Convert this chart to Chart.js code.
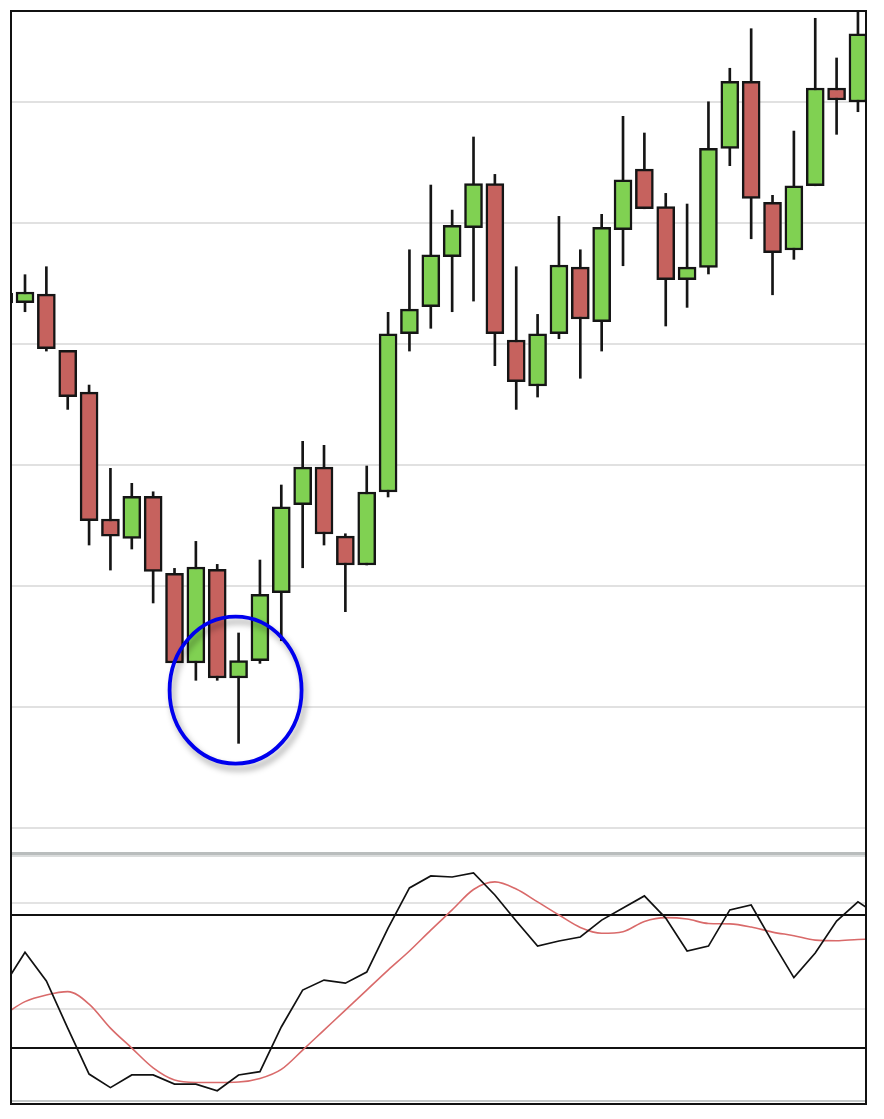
<!DOCTYPE html>
<html>
<head>
<meta charset="utf-8">
<script src="https://cdn.jsdelivr.net/npm/chart.js@4.4.1/dist/chart.umd.min.js"></script>
<style>
    html, body { margin: 0; padding: 0; background: #fff; }
    #frame {
        position: absolute; left: 10px; top: 10px;
        width: 857px; height: 1095px;
        border: 2px solid #111; box-sizing: border-box;
    }
    #priceBox { position: absolute; left: 0; top: 0; width: 853px; height: 840px; }
    #sep {
        position: absolute; left: 0; top: 840px; width: 853px; height: 5px;
        background: linear-gradient(#b9bdbd 0, #b9bdbd 3px, #dadcdc 3px, #dadcdc 5px);
    }
    #stochBox { position: absolute; left: 0; top: 845px; width: 853px; height: 243px; }
    #bottomLine { position: absolute; left: 0; top: 1088px; width: 853px; height: 2px; background: #c4c8c8; }
</style>
</head>
<body>
<div id="frame">
    <div id="priceBox"><canvas id="priceChart"></canvas></div>
    <div id="sep"></div>
    <div id="stochBox"><canvas id="stochChart"></canvas></div>
    <div id="bottomLine"></div>
</div>

<script>
// candles (first one is cut off by the left edge)
const candleIndex = [-1, 0, 1, 2, 3, 4, 5, 6, 7, 8, 9, 10, 11, 12, 13, 14, 15, 16, 17, 18, 19,
    20, 21, 22, 23, 24, 25, 26, 27, 28, 29, 30, 31, 32, 33, 34, 35, 36, 37, 38, 39];

const opens = [43.40, 43.41, 44.13, 39.48, 36.03, 25.54, 23.94, 27.41, 21.05, 13.64, 21.38,
    12.40, 13.83, 19.45, 26.72, 29.83, 24.13, 21.74, 27.77, 40.85, 43.08, 47.21, 49.61, 53.25,
    40.33, 36.53, 40.85, 46.36, 41.84, 49.45, 54.46, 51.35, 45.31, 46.34, 56.17, 61.71, 51.71,
    47.77, 53.08, 61.16, 60.00];

const closes = [44.20, 44.30, 39.61, 35.64, 25.40, 24.13, 27.41, 21.21, 13.64, 21.57, 12.40,
    13.83, 19.31, 26.55, 29.83, 24.30, 21.74, 27.77, 40.85, 42.89, 47.38, 49.81, 53.25, 40.85,
    36.88, 40.85, 46.53, 42.07, 49.64, 53.58, 51.18, 45.31, 46.36, 56.17, 61.71, 52.04, 47.55,
    53.08, 61.16, 60.17, 65.64];

const highs = [44.90, 45.73, 46.39, 39.48, 36.61, 29.73, 28.49, 27.79, 21.46, 23.69, 21.79,
    16.12, 22.15, 28.35, 31.96, 31.63, 24.32, 29.92, 42.62, 47.79, 53.14, 51.07, 57.11, 54.02,
    46.39, 42.45, 50.55, 47.79, 50.72, 58.82, 57.44, 52.45, 51.57, 60.02, 62.79, 66.06, 52.29,
    57.60, 66.92, 63.64, 68.50];

const lows = [42.80, 42.67, 39.42, 34.60, 23.39, 21.32, 23.06, 18.60, 13.64, 12.21, 12.21,
    7.00, 13.61, 15.48, 21.51, 23.39, 17.88, 21.74, 27.36, 39.42, 41.30, 42.67, 43.55, 38.21,
    34.60, 35.62, 40.44, 37.17, 39.42, 46.47, 51.18, 41.49, 43.03, 45.79, 54.74, 48.70, 44.07,
    47.00, 53.08, 57.33, 59.20];

const priceGrid = [0, 10, 20, 30, 40, 50, 60];

// stochastic oscillator (one point past the right edge)
const stochIndex = [-1, 0, 1, 2, 3, 4, 5, 6, 7, 8, 9, 10, 11, 12, 13, 14, 15, 16, 17, 18, 19,
    20, 21, 22, 23, 24, 25, 26, 27, 28, 29, 30, 31, 32, 33, 34, 35, 36, 37, 38, 39, 40];

const stochK = [48.0, 63.2, 50.3, 29.1, 8.4, 2.3, 8.0, 8.0, 3.9, 3.9, 0.9, 8.0, 9.5, 29.6,
    46.2, 50.7, 49.3, 54.3, 74.1, 92.2, 97.6, 97.1, 98.9, 89.0, 77.3, 66.0, 68.3, 70.1, 77.7,
    83.2, 88.6, 78.6, 63.8, 66.0, 82.3, 84.5, 67.8, 51.8, 62.9, 77.3, 85.9, 79.5];

const stochD = [35.0, 41.0, 44.0, 45.5, 39.9, 29.1, 20.1, 11.2, 5.7, 4.6, 4.6, 4.8, 6.4, 10.5,
    19.2, 28.2, 37.2, 46.2, 55.2, 63.8, 73.2, 82.3, 91.5, 94.9, 91.7, 85.9, 80.0, 74.4, 71.8,
    72.5, 77.1, 78.8, 78.2, 76.2, 76.0, 74.6, 72.3, 70.7, 68.7, 68.4, 69.0, 69.2];

const stochLevels = [20, 80];
const stochGrid = [37.7, 85.5];

// candle that gets the blue ring
const ringCandle = 10;

const upColor = '#80d152';
const downColor = '#c6625e';

const xRange = { min: -0.609, max: 39.33 };

const ringPlugin = {
    id: 'ring',
    afterDatasetsDraw(chart) {
        const ctx = chart.ctx;
        const i = candleIndex.indexOf(ringCandle);
        const cx = chart.scales.x.getPixelForValue(ringCandle) - 3;
        const cy = chart.scales.y.getPixelForValue((highs[i] + lows[i]) / 2) + 2;

        ctx.save();
        ctx.beginPath();
        ctx.ellipse(cx, cy, 66, 73.5, 0, 0, Math.PI * 2);
        ctx.shadowColor = 'rgba(0,0,0,.38)';
        ctx.shadowBlur = 6;
        ctx.shadowOffsetX = 3;
        ctx.shadowOffsetY = 5;
        ctx.strokeStyle = '#0000ee';
        ctx.lineWidth = 3.8;
        ctx.stroke();
        ctx.restore();
    }
};

new Chart(document.getElementById('priceChart'), {

    type: 'bar',

    data: {
        labels: candleIndex,
        datasets: [{
                label: 'body',
                data: candleIndex.map((_, i) => [opens[i], closes[i]]),
                backgroundColor: c =>
                        closes[c.dataIndex] >= opens[c.dataIndex] ? upColor : downColor,
                borderColor: '#151515',
                borderWidth: 2.5,
                borderSkipped: false,
                barThickness: 18,
                grouped: false,
                order: 0
            }, {
                label: 'wick',
                data: candleIndex.map((_, i) => [lows[i], highs[i]]),
                backgroundColor: '#151515',
                borderWidth: 0,
                barThickness: 2,
                grouped: false,
                order: 1
            }]
    },

    options: {
        responsive: true,
        maintainAspectRatio: false,
        animation: false,
        plugins: {
            legend: { display: false },
            tooltip: { enabled: false }
        },
        scales: {
            x: {
                type: 'linear',
                min: xRange.min,
                max: xRange.max,
                offset: false,
                display: false
            },
            y: {
                min: -1.98,
                max: 67.44,
                afterBuildTicks: axis => {
                    axis.ticks = priceGrid.map(v => ({ value: v }));
                },
                ticks: { display: false },
                border: { display: false },
                grid: {
                    drawTicks: false,
                    color: '#e1e1e1',
                    lineWidth: 2
                }
            }
        }
    },

    plugins: [ringPlugin]
});

new Chart(document.getElementById('stochChart'), {

    type: 'line',

    data: {
        labels: stochIndex,
        datasets: [{
                label: '%K',
                data: stochK,
                borderColor: '#111',
                borderWidth: 1.7,
                pointRadius: 0,
                tension: 0
            }, {
                label: '%D',
                data: stochD,
                borderColor: '#d96a6a',
                borderWidth: 1.6,
                pointRadius: 0,
                cubicInterpolationMode: 'monotone'
            }]
    },

    options: {
        responsive: true,
        maintainAspectRatio: false,
        animation: false,
        plugins: {
            legend: { display: false },
            tooltip: { enabled: false }
        },
        scales: {
            x: {
                type: 'linear',
                min: xRange.min,
                max: xRange.max,
                display: false
            },
            y: {
                min: -3.27,
                max: 106.11,
                afterBuildTicks: axis => {
                    axis.ticks = stochGrid.concat(stochLevels).map(v => ({ value: v }));
                },
                ticks: { display: false },
                border: { display: false },
                grid: {
                    drawTicks: false,
                    color: c => stochLevels.includes(c.tick.value) ? '#111' : '#e3e3e3',
                    lineWidth: 2
                }
            }
        }
    }
});
</script>
</body>
</html>
